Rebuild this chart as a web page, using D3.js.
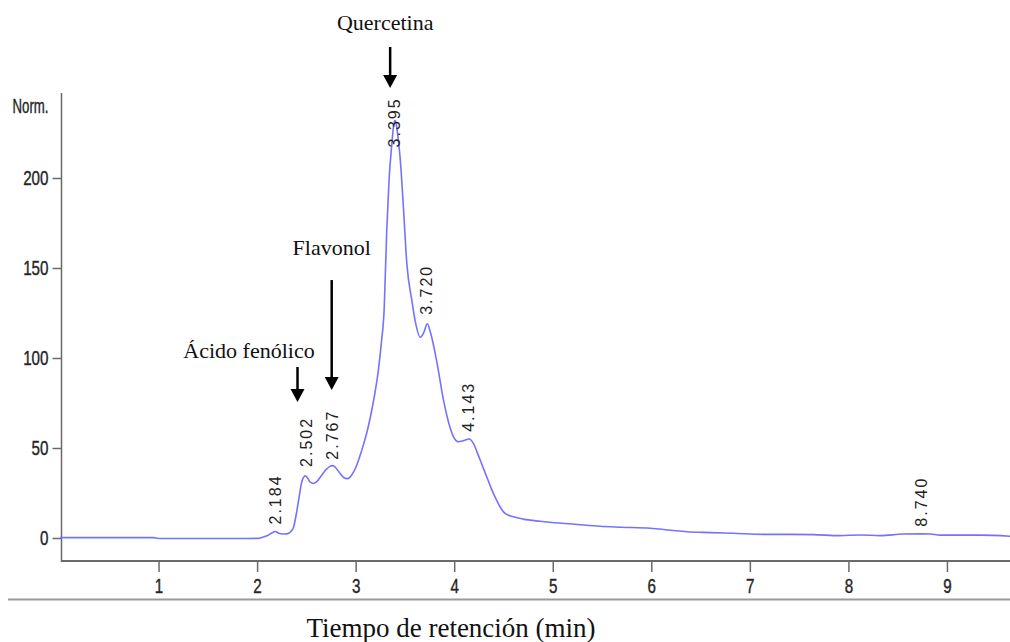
<!DOCTYPE html>
<html><head><meta charset="utf-8">
<script src="https://cdn.jsdelivr.net/npm/d3@7"></script>
<style>
html,body{margin:0;padding:0;background:#fff;}
svg{display:block;}
</style></head>
<body>
<svg id="chart" width="1010" height="642"></svg>
<script>
// ---- data ----
const times = [0.0,0.5,0.95,1.0,1.5,1.9,2.0,2.05,2.1,2.15,2.184,2.22,2.26,2.30,2.34,2.37,2.40,2.43,2.45,2.47,2.49,2.51,2.54,2.57,2.60,2.65,2.70,2.74,2.765,2.79,2.84,2.88,2.92,2.96,3.00,3.04,3.08,3.12,3.16,3.20,3.23,3.26,3.29,3.315,3.34,3.366,3.385,3.40,3.415,3.435,3.45,3.48,3.52,3.57,3.61,3.655,3.69,3.727,3.76,3.82,3.89,3.96,4.00,4.04,4.09,4.15,4.20,4.23,4.28,4.33,4.38,4.43,4.48,4.52,4.60,4.70,4.87,5.02,5.2,5.48,5.7,5.99,6.2,6.36,6.6,6.83,7.17,7.4,7.64,7.91,8.12,8.32,8.56,8.74,8.83,8.93,9.34,9.64];
const signal = [0.2,0.2,0.2,-0.3,-0.3,-0.3,-0.2,0.3,1.2,2.8,3.6,2.6,2.2,2.3,3.5,6,14,24,30.5,33.5,34.5,33.5,31,30.3,31,34.5,38,39.8,40.2,39.5,36,33.5,33,35,39,45,52,60,70,82,93,108,128,170,200,218,229,232,229,220,212,188,152,132,119,111.5,114,119,114,99,77,61,55.5,53.5,54,55,52,48,41,34,27,21,16,13.5,11.8,10.5,9.3,8.5,7.8,6.5,6,5.4,4.3,3.5,3.0,2.6,2.0,2.0,1.9,1.3,1.7,1.3,2.2,2.3,2.2,1.6,1.6,1.0];

const peakTimes  = [2.184, 2.502, 2.767, 3.395, 3.720, 4.143, 8.740];
const peakLabels = ["2.184","2.502","2.767","3.395","3.720","4.143","8.740"];
const peakLabelBase = [7.5, 39.5, 43.5, 217, 124, 59, 6.3];

const annotText  = ["Quercetina","Flavonol","Ácido fenólico"];
const annotTextT = [3.30, 2.757, 1.918];
const annotTextV = [282, 157, 99.8];
const arrowT     = [3.35, 2.757, 2.41];
const arrowTopV  = [272.8, 143.3, 95];
const arrowTipV  = [250, 82.2, 75.6];

const xMajor = [1,2,3,4,5,6,7,8,9];
const yMajor = [0,50,100,150,200];
const xTitle = "Tiempo de retención (min)";
const yUnit = "Norm.";

// ---- scales ----
const svg = d3.select("#chart");
const x = d3.scaleLinear().domain([0, 9]).range([60, 946.95]);
const y = d3.scaleLinear().domain([0, 200]).range([538, 178]);
const xMax = x.invert(1010), yMin = y.invert(561), yTop = y.invert(93);

const axisColor = "#6a6a6a";
const tickFont = "'Liberation Sans',Arial,sans-serif";
const tickColor = "#262626";
const narrow = 0.76;

// bottom separator line
svg.append("line").attr("x1", 8).attr("x2", 1010).attr("y1", 599.5).attr("y2", 599.5)
  .attr("stroke", "#9a9a9a").attr("stroke-width", 2);

// x axis
const xMinor = d3.range(1, Math.floor(xMax * 5) + 1).map(d => d / 5).filter(d => Math.abs(d - Math.round(d)) > 1e-6);
const gx = svg.append("g").attr("transform", `translate(0,${y(yMin)})`);
gx.call(d3.axisBottom(x).tickValues(xMinor).tickSize(5).tickFormat(""));
gx.call(d3.axisBottom(x).tickValues(xMajor).tickSize(11).tickPadding(7).tickFormat(d3.format("d")));
gx.selectAll(".domain").remove();
gx.append("line").attr("x1", x(0) + 1).attr("x2", 1010).attr("stroke", axisColor).attr("stroke-width", 2);
gx.selectAll(".tick line").attr("stroke", axisColor).attr("stroke-width", 1.5);
gx.selectAll(".tick text").attr("font-family", tickFont).attr("font-size", 20).attr("fill", tickColor)
  .attr("stroke", tickColor).attr("stroke-width", 0.4)
  .attr("transform", `scale(${narrow},1)`);

// y axis
const yMinorVals = d3.range(-10, 250, 10).filter(v => v % 50 !== 0);
const gy = svg.append("g").attr("transform", `translate(${x(0) + 1.5},0)`);
gy.call(d3.axisLeft(y).tickValues(yMinorVals).tickSize(4).tickFormat(""));
gy.call(d3.axisLeft(y).tickValues(yMajor).tickSize(9).tickPadding(4).tickFormat(d3.format("d")));
gy.selectAll(".domain").remove();
gy.append("line").attr("y1", y(yTop)).attr("y2", y(yMin) + 1).attr("stroke", axisColor).attr("stroke-width", 1.5);
gy.selectAll(".tick line").attr("stroke", axisColor).attr("stroke-width", 1.5);
gy.selectAll(".tick text").attr("font-family", tickFont).attr("font-size", 20).attr("fill", tickColor)
  .attr("stroke", tickColor).attr("stroke-width", 0.4)
  .attr("x", 0).attr("transform", `translate(-13,0) scale(${narrow},1)`);
gy.append("text").attr("transform", `translate(-13,${y(240)}) scale(0.66,1)`).attr("dy", "0.35em")
  .attr("text-anchor", "end").attr("font-family", tickFont).attr("font-size", 20)
  .attr("fill", tickColor).attr("stroke", tickColor).attr("stroke-width", 0.4).text(yUnit);

// chromatogram trace
const line = d3.line().x((d, i) => x(times[i])).y(d => y(d)).curve(d3.curveMonotoneX);
svg.append("path").datum(signal).attr("d", line)
  .attr("fill", "none").attr("stroke", "#7373ff").attr("stroke-width", 1.6);

// peak labels
svg.append("g").selectAll("text").data(peakTimes).join("text")
  .attr("transform", (d, i) => `translate(${x(d)},${y(peakLabelBase[i])}) rotate(-90)`)
  .attr("dy", "0.36em")
  .attr("font-family", "'Liberation Sans',Arial,sans-serif").attr("font-size", 16)
  .attr("letter-spacing", "2px").attr("fill", "#222")
  .text((d, i) => peakLabels[i]);

// annotations
const ann = svg.append("g");
annotText.forEach((t, i) => {
  ann.append("text").attr("x", x(annotTextT[i])).attr("y", y(annotTextV[i]))
    .attr("text-anchor", "middle").attr("font-family", "'Liberation Serif','Times New Roman',serif")
    .attr("font-size", 22).attr("fill", "#111").text(t);
  const ax = x(arrowT[i]), yTip = y(arrowTipV[i]), yTopA = y(arrowTopV[i]);
  ann.append("line").attr("x1", ax).attr("x2", ax).attr("y1", yTopA).attr("y2", yTip - 10)
    .attr("stroke", "#000").attr("stroke-width", 2.5);
  ann.append("path").attr("d", `M${ax - 7},${yTip - 13} L${ax + 7},${yTip - 13} L${ax},${yTip} Z`).attr("fill", "#000");
});

// x title
svg.append("text").attr("x", 451).attr("y", 637).attr("text-anchor", "middle")
  .attr("font-family", "'Liberation Serif','Times New Roman',serif").attr("font-size", 27)
  .attr("fill", "#111").text(xTitle);
</script>
</body></html>
